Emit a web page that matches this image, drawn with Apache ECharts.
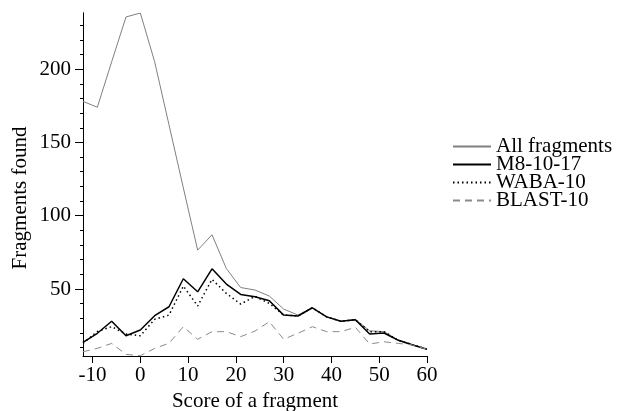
<!DOCTYPE html>
<html><head><meta charset="utf-8">
<script src="https://cdn.jsdelivr.net/npm/echarts@6/dist/echarts.min.js"></script>
<style>html,body{margin:0;padding:0;background:#fff}#c{width:619px;height:411px}</style>
</head><body><div id="c"></div>
<script>
const scores = [-12,-9,-6,-3,0,3,6,9,12,15,18,21,24,27,30,33,36,39,42,45,48,51,54,57,60];
const allFragments = [178,174,205,235.6,238.3,205,162,119,76.5,87,64,51,49.3,45.2,36.3,32.2,37.2,31,28,29.3,21.5,20.9,15.2,12,8.9];
const m8 = [13.6,19.8,28,18.1,22,31.8,37.9,57,48.1,63.8,53.4,46.3,44.7,42,32.2,31.6,37.2,31,28,29,19.3,20,15,11.8,8.9];
const waba = [13,21,24.3,19.3,18.1,29.3,32.2,52,38.4,56.6,47,39.7,45,40.2,32.2,31.6,37.2,31,28,29,20.9,20.9,15,12,9];
const blast = [7.2,9.5,12.9,5.4,4.5,9.5,13,24.3,15.7,20.9,20.9,17.5,21.3,27.7,15.7,19.8,24.3,20.9,20.9,23.9,12.5,14,12.9,11.8,8.9];
const seriesNames = ['All fragments','M8-10-17','WABA-10','BLAST-10'];
const xTickLabels = [-10,0,10,20,30,40,50,60];
const yTickLabels = [50,100,150,200];
const yMinorTicks = [10,20,30,40,60,70,80,90,110,120,130,140,160,170,180,190,210,220,230];
const xTitle = 'Score of a fragment';
const yTitle = 'Fragments found';

const FONT = '"Liberation Serif", "Times New Roman", serif';
const pairs = arr => scores.map((s,i)=>[s,arr[i]]);
const chart = echarts.init(document.getElementById('c'), null, {renderer:'canvas'});
const yBase = {type:'value', min:4.3, max:238.3, splitLine:{show:false},
  axisLine:{show:true, onZero:false, lineStyle:{color:'#000', width:1}}};
chart.setOption({
  animation:false,
  backgroundColor:'#fff',
  grid:{left:83, top:13, width:344, height:343, containLabel:false},
  xAxis:{type:'value', min:-12, max:60, splitLine:{show:false},
    axisLine:{onZero:false, lineStyle:{color:'#000', width:1}},
    axisTick:{show:true, length:7, lineStyle:{color:'#000'}, customValues:xTickLabels},
    axisLabel:{customValues:xTickLabels, color:'#000', fontFamily:FONT, fontSize:21, margin:9}},
  yAxis:[
    Object.assign({}, yBase, {
      axisTick:{show:true, length:8, lineStyle:{color:'#000'}, customValues:yTickLabels},
      axisLabel:{customValues:yTickLabels, color:'#000', fontFamily:FONT, fontSize:21, margin:12}}),
    Object.assign({}, yBase, {position:'left',
      axisTick:{show:true, length:3, lineStyle:{color:'#000'}, customValues:yMinorTicks},
      axisLabel:{show:false}})
  ],
  legend:{orient:'vertical', left:447, top:131, itemWidth:38, itemHeight:12, itemGap:-3,
    itemStyle:{opacity:0},
    textStyle:{color:'#000', fontFamily:FONT, fontSize:21},
    data:seriesNames},
  graphic:[
    {type:'text', x:20, y:198, rotation:Math.PI/2,
      style:{text:yTitle, font:'21px '+FONT, fill:'#000', align:'center', verticalAlign:'middle'}},
    {type:'text', x:255, y:401,
      style:{text:xTitle, font:'21px '+FONT, fill:'#000', align:'center', verticalAlign:'middle'}}
  ],
  series:[
    {name:seriesNames[0], type:'line', data:pairs(allFragments), symbol:'none',
      lineStyle:{color:'#808080', width:1}, itemStyle:{color:'#808080'}},
    {name:seriesNames[1], type:'line', data:pairs(m8), symbol:'none',
      lineStyle:{color:'#000', width:1.5}, itemStyle:{color:'#000'}},
    {name:seriesNames[2], type:'line', data:pairs(waba), symbol:'none',
      lineStyle:{color:'#000', width:1.5, type:[1.5,3]}, itemStyle:{color:'#000'}},
    {name:seriesNames[3], type:'line', data:pairs(blast), symbol:'none',
      lineStyle:{color:'#8a8a8a', width:1, type:[7,5]}, itemStyle:{color:'#8a8a8a'}}
  ]
});
</script></body></html>
